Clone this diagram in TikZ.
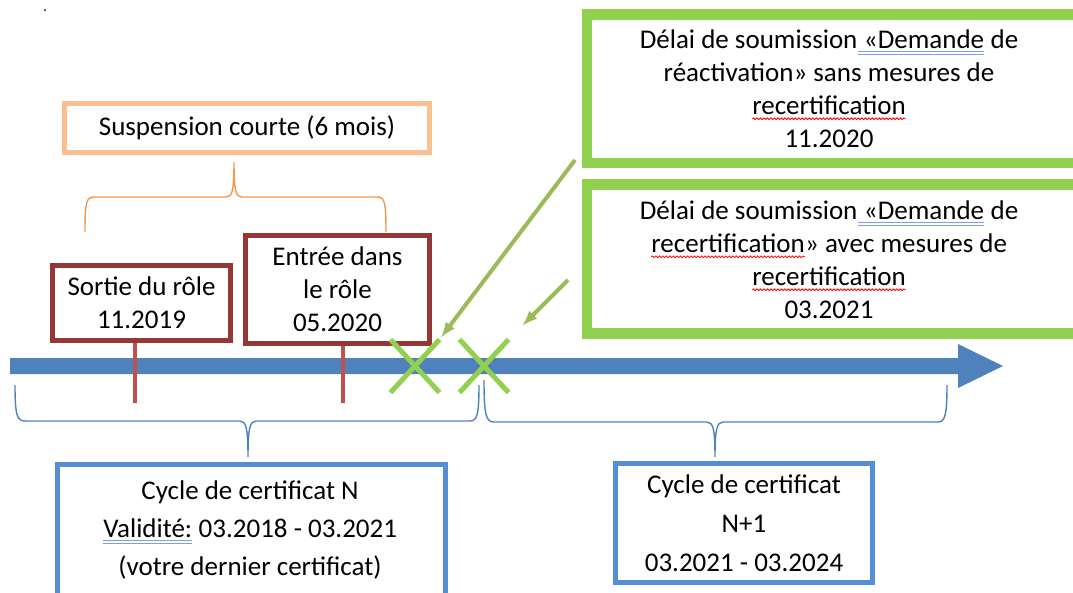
\documentclass[tikz,border=0pt]{standalone}
\usepackage{fontspec}
\setmainfont{Carlito}
\usetikzlibrary{shapes.misc,decorations.pathmorphing}

\definecolor{peach}{HTML}{FAC090}
\definecolor{braceorange}{HTML}{F79646}
\definecolor{roledark}{HTML}{953735}
\definecolor{stemred}{HTML}{C0504D}
\definecolor{axisblue}{HTML}{4F81BD}
\definecolor{cycleblue}{HTML}{558ED5}
\definecolor{limegreen}{HTML}{92D050}
\definecolor{olivegreen}{HTML}{9BBB59}
\definecolor{gramblue}{HTML}{7F9FE5}

% proofing marks under words
\newcommand{\spellmark}[1]{\tikz[baseline=(w.base)]{\node[inner sep=0pt, outer sep=0pt] (w) {#1};
    \draw[red, line width=0.8pt, decorate, decoration={snake, amplitude=0.9pt, segment length=3.5pt}]
      ([yshift=-4pt]w.base west) -- ([yshift=-4pt]w.base east);}}
\newcommand{\grammark}[1]{\tikz[baseline=(g.base)]{\node[inner sep=0pt, outer sep=0pt] (g) {#1};
    \draw[gramblue, line width=0.7pt] ([yshift=-3pt]g.base west) -- ([yshift=-3pt]g.base east)
      ([yshift=-5.5pt]g.base west) -- ([yshift=-5.5pt]g.base east);}}

\begin{document}
\begin{tikzpicture}[x=1pt, y=-1pt,
    framebox/.style={draw, line width=5pt, align=center, inner sep=0pt,
      font=\fontsize{27}{33}\selectfont},
    txt/.style={align=center, inner sep=0pt, font=\fontsize{27}{33}\selectfont},
    bracket/.style={line width=1.4pt},
    stemline/.style={stemred, line width=4pt},
    xmark/.style={cross out, draw=limegreen, line width=5pt, minimum width=44,
      minimum height=48, inner sep=0pt},
    greenbox/.style={draw=limegreen, line width=10.5pt},
    pointer/.style={olivegreen, line width=4pt, -latex}]

    \useasboundingbox (0,0) rectangle (1073,592);
    \clip (0,0) rectangle (1073,592);

    % stray dot
    \fill (45,10) circle (1);

    % Short suspension
    \node[framebox, draw=peach, minimum width=365, minimum height=48.5] (susp) at (247,128)
        {Suspension courte (6 mois)};
    \draw[bracket, braceorange] (85,232) .. controls (85,203) and (86,197) .. (94,197) -- (226,197)
        .. controls (232,197) and (234,192) .. (234,162)
        .. controls (234,192) and (236,197) .. (242,197) -- (377,197)
        .. controls (385,197) and (386,203) .. (386,232);

    % Role events
    \node[framebox, draw=roledark, minimum width=178, minimum height=75] (exit) at (141.5,303)
        {Sortie du rôle\\11.2019};
    \node[framebox, draw=roledark, minimum width=184, minimum height=108] (entry) at (337.5,289.5)
        {Entrée dans\\le rôle\\05.2020};

    % Time axis
    \fill[axisblue] (10,358) -- (958,358) -- (958,344) -- (1003,366) -- (958,388)
        -- (958,374) -- (10,374) -- cycle;

    % Stems
    \coordinate (t1) at (135,403);
    \coordinate (t2) at (343,403);
    \draw[stemline] (t1) -- (t1 |- exit.south);
    \draw[stemline] (t2) -- (t2 |- entry.south);

    % Deadline marks
    \node[xmark] (x1) at (415,366) {};
    \node[xmark] (x2) at (484,366) {};

    % Deadlines
    \draw[greenbox] (587,14.5) rectangle (1095,163);
    \node[txt] (react) at (829,89)
        {Délai de soumission\grammark{~«Demande} de\\réactivation» sans mesures de\\\spellmark{recertification}\\11.2020};
    \draw[greenbox] (587,184.5) rectangle (1095,333.5);
    \node[txt] (recert) at (829,260)
        {Délai de soumission\grammark{~«Demande} de\\\spellmark{recertification}» avec mesures de\\\spellmark{recertification}\\03.2021};

    \coordinate (s1) at (575,160);
    \coordinate (s2) at (568,280);
    \draw[pointer, shorten >=3pt] (s1) -- (x1.north east);
    \draw[pointer, shorten >=20pt] (s2) -- (x2.north east);

    % Certificate cycles
    \draw[bracket, axisblue] (15,385) .. controls (15,415) and (17,421) .. (25,421) -- (240,421)
        .. controls (246,421) and (248,428) .. (248,457)
        .. controls (248,428) and (250,421) .. (256,421) -- (470,421)
        .. controls (477,421) and (479,415) .. (479,385);
    \draw[bracket, axisblue] (484,380) .. controls (484,415) and (486,422) .. (494,422) -- (707,422)
        .. controls (713,422) and (715,429) .. (715,457)
        .. controls (715,429) and (717,422) .. (723,422) -- (938,422)
        .. controls (945,422) and (947,415) .. (947,385);

    \draw[draw=cycleblue, line width=5pt] (57.5,464.5) rectangle (445.5,610);
    \node[txt, font=\fontsize{27}{38}\selectfont] (cycN) at (250,530)
        {Cycle de certificat N\\\grammark{Validité:} 03.2018 - 03.2021\\(votre dernier certificat)};
    \node[framebox, draw=cycleblue, minimum width=257, minimum height=119,
        font=\fontsize{27}{39}\selectfont] (cycNext) at (744,523)
        {Cycle de certificat\\N+1\\03.2021 - 03.2024};
\end{tikzpicture}
\end{document}
